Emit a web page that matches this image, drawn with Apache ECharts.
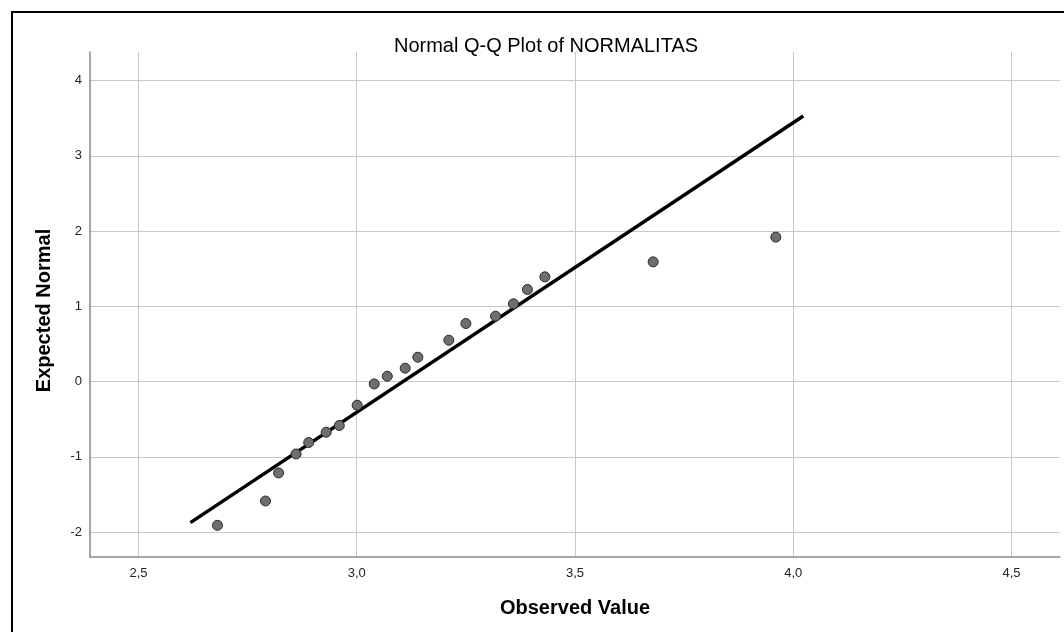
<!DOCTYPE html>
<html>
<head>
<meta charset="utf-8">
<script src="https://cdn.jsdelivr.net/npm/echarts@6/dist/echarts.min.js"></script>
<style>
html,body{margin:0;padding:0;background:#fff;}
#chart{width:1064px;height:632px;}
</style>
</head>
<body>
<div id="chart"></div>
<script>
// Observed values (x) and expected normal quantiles (y)
const observed = [2.681, 2.791, 2.821, 2.861, 2.890, 2.930, 2.960, 3.001, 3.040, 3.070,
                  3.111, 3.140, 3.211, 3.250, 3.318, 3.359, 3.391, 3.431, 3.679, 3.960];
const expected = [-1.911, -1.588, -1.215, -0.963, -0.811, -0.674, -0.585, -0.315, -0.032, 0.070,
                  0.177, 0.323, 0.549, 0.771, 0.868, 1.032, 1.223, 1.391, 1.590, 1.919];
// Reference line end points
const lineX = [2.619, 4.023];
const lineY = [-1.875, 3.528];
// Ticks
const xTicks = [2.5, 3.0, 3.5, 4.0, 4.5];
const xTickLabels = ['2,5', '3,0', '3,5', '4,0', '4,5'];
const yTicks = [-2, -1, 0, 1, 2, 3, 4];
const yTickLabels = ['-2', '-1', '0', '1', '2', '3', '4'];

const chart = echarts.init(document.getElementById('chart'), null, {renderer: 'canvas'});

const scatterData = observed.map((v, i) => [v, expected[i]]);
const lineData = lineX.map((v, i) => [v, lineY[i]]);

function lab(ticks, labels) {
  return function (v) {
    for (let i = 0; i < ticks.length; i++) {
      if (Math.abs(ticks[i] - v) < 1e-6) return labels[i];
    }
    return '';
  };
}

const option = {
  backgroundColor: '#ffffff',
  animation: false,
  title: {
    text: 'Normal Q-Q Plot of NORMALITAS',
    left: 541,
    top: 31,
    textAlign: 'center',
    textStyle: {
      fontFamily: 'Liberation Sans',
      fontSize: 20,
      fontWeight: 'normal',
      color: '#000'
    }
  },
  grid: {
    left: 90,
    right: 4,
    top: 52,
    bottom: 75,
    containLabel: false
  },
  xAxis: {
    type: 'value',
    min: 2.389,
    max: 4.611,
    name: 'Observed Value',
    nameLocation: 'middle',
    nameGap: 41,
    nameTextStyle: {
      fontFamily: 'Liberation Sans',
      fontSize: 20,
      fontWeight: 'bold',
      color: '#000'
    },
    axisLine: {show: true, onZero: false, lineStyle: {color: '#8a8a8a', width: 1.5}},
    axisTick: {show: false, customValues: xTicks},
    axisLabel: {
      customValues: xTicks,
      formatter: lab(xTicks, xTickLabels),
      fontFamily: 'Liberation Sans',
      fontSize: 13,
      color: '#222',
      margin: 10
    },
    splitLine: {show: true, lineStyle: {color: '#c8c8c8', width: 1}}
  },
  yAxis: {
    type: 'value',
    min: -2.332,
    max: 4.379,
    name: 'Expected Normal',
    nameLocation: 'middle',
    nameGap: 36,
    nameTextStyle: {
      fontFamily: 'Liberation Sans',
      fontSize: 20,
      fontWeight: 'bold',
      color: '#000',
      padding: [0, 12, 0, 0]
    },
    axisLine: {show: true, onZero: false, lineStyle: {color: '#8a8a8a', width: 1.5}},
    axisTick: {show: false, customValues: yTicks},
    axisLabel: {
      customValues: yTicks,
      formatter: lab(yTicks, yTickLabels),
      fontFamily: 'Liberation Sans',
      fontSize: 13,
      color: '#222',
      margin: 8
    },
    splitLine: {show: true, lineStyle: {color: '#c8c8c8', width: 1}}
  },
  graphic: [{
    type: 'rect',
    shape: {x: 12, y: 12, width: 1200, height: 800},
    style: {fill: 'none', stroke: '#000', lineWidth: 2},
    silent: true,
    z: 100
  }],
  series: [
    {
      type: 'line',
      data: lineData,
      symbol: 'none',
      lineStyle: {color: '#000', width: 3.5},
      z: 2,
      silent: true
    },
    {
      type: 'scatter',
      data: scatterData,
      symbol: 'circle',
      symbolSize: 10,
      itemStyle: {color: '#6e6e6e', borderColor: '#2a2a2a', borderWidth: 1, opacity: 1},
      z: 3
    }
  ]
};

chart.setOption(option);
</script>
</body>
</html>
